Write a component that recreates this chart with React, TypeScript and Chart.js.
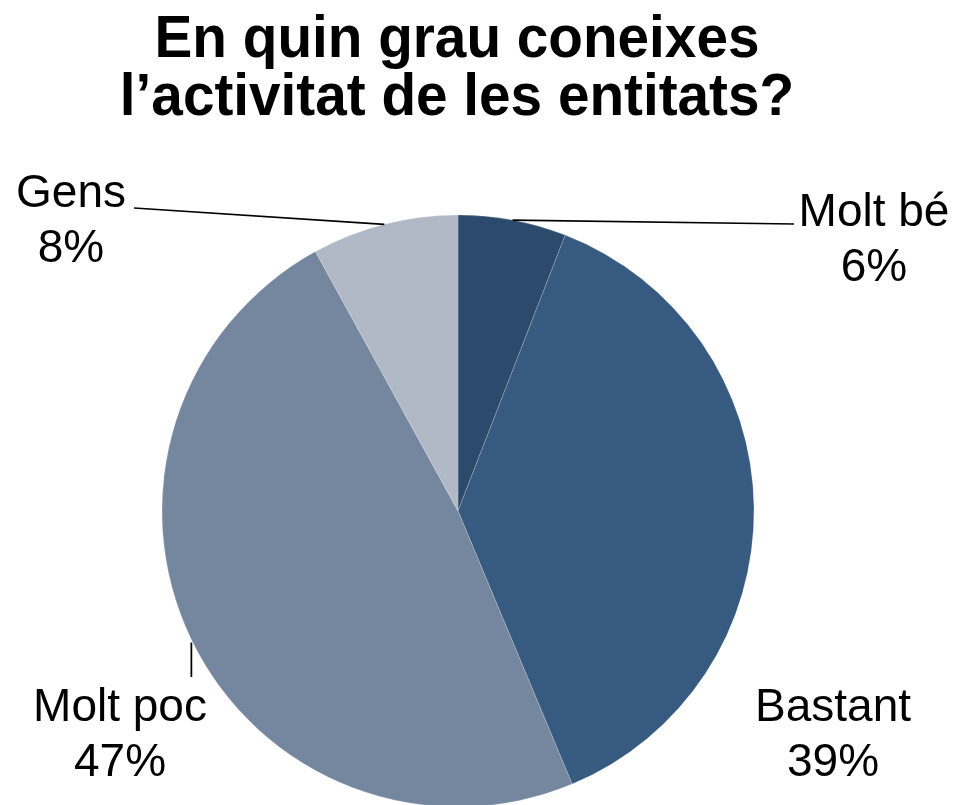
import React, { useEffect, useRef } from "react";
import { Chart, registerables } from "chart.js";

Chart.register(...registerables);

// ---- data ----
const categories = ["Molt bé", "Bastant", "Molt poc", "Gens"];
const shares = [5.9, 37.8, 48.3, 8.0];
const percentLabels = ["6%", "39%", "47%", "8%"];
const titleLines = ["En quin grau coneixes", "l’activitat de les entitats?"];
const sliceColors = ["#2C4A6B", "#375B80", "#74879F", "#B1B9C6"];

// ---- label placement (layout only) ----
type Leader = "right" | "left" | "down" | null;
const labelLayout: { x: number; y: number; leader: Leader; end: number }[] = [
  { x: 874, y: 226, leader: "right", end: 794 },
  { x: 833, y: 721, leader: null, end: 0 },
  { x: 120, y: 721, leader: "down", end: 677 },
  { x: 71, y: 207, leader: "left", end: 134 },
];

const FONT = '"Liberation Sans", Arial, Helvetica, sans-serif';

const overlayPlugin = {
  id: "overlay",
  afterDraw(chart: any) {
    const ctx: CanvasRenderingContext2D = chart.ctx;
    // title
    ctx.save();
    ctx.fillStyle = "#000";
    ctx.textAlign = "center";
    ctx.textBaseline = "alphabetic";
    ctx.font = `bold 60px ${FONT}`;
    const baselines = [57, 115];
    titleLines.forEach((line, i) => {
      ctx.save();
      ctx.translate(457, baselines[i]);
      ctx.scale(0.945, 1);
      ctx.fillText(line, 0, 0);
      ctx.restore();
    });
    ctx.restore();

    // labels + leaders
    const meta = chart.getDatasetMeta(0);
    ctx.save();
    ctx.font = `46px ${FONT}`;
    ctx.fillStyle = "#000";
    ctx.textAlign = "center";
    ctx.strokeStyle = "#000";
    ctx.lineWidth = 1.75;
    meta.data.forEach((arc: any, i: number) => {
      const p = arc.getProps(["x", "y", "startAngle", "endAngle", "outerRadius"], true);
      const mid = (p.startAngle + p.endAngle) / 2;
      const ax = p.x + Math.cos(mid) * p.outerRadius;
      const ay = p.y + Math.sin(mid) * p.outerRadius;
      const L = labelLayout[i];
      if (L.leader === "right") {
        ctx.beginPath();
        ctx.moveTo(ax, ay);
        ctx.lineTo(L.end, L.y - 2);
        ctx.stroke();
      } else if (L.leader === "left") {
        ctx.beginPath();
        ctx.moveTo(ax, ay);
        ctx.lineTo(L.end, L.y + 1);
        ctx.stroke();
      } else if (L.leader === "down") {
        ctx.beginPath();
        ctx.moveTo(ax, ay + 3);
        ctx.lineTo(ax, L.end);
        ctx.stroke();
      }
      ctx.fillText(categories[i], L.x, L.y);
      ctx.fillText(percentLabels[i], L.x, L.y + 55);
    });
    ctx.restore();
  },
};

export default function App() {
  const ref = useRef<HTMLCanvasElement>(null);
  useEffect(() => {
    if (!ref.current) return;
    const chart = new Chart(ref.current, {
      type: "pie",
      data: {
        labels: categories,
        datasets: [
          {
            data: shares,
            backgroundColor: sliceColors,
            borderColor: "rgba(255,255,255,0.18)",
            borderWidth: 1,
          },
        ],
      },
      options: {
        responsive: false,
        animation: false,
        devicePixelRatio: 1,
        events: [],
        layout: { padding: { left: 161.5, right: 205.5, top: 214.5, bottom: 32.5 } },
        plugins: {
          legend: { display: false },
          tooltip: { enabled: false },
          title: { display: false },
        },
      },
      plugins: [overlayPlugin],
    });
    return () => chart.destroy();
  }, []);
  return (
    <div
      style={{
        position: "fixed",
        left: 0,
        top: 0,
        width: 960,
        height: 805,
        overflow: "hidden",
        background: "#fff",
      }}
    >
      <canvas ref={ref} width={960} height={840} style={{ display: "block" }} />
    </div>
  );
}
